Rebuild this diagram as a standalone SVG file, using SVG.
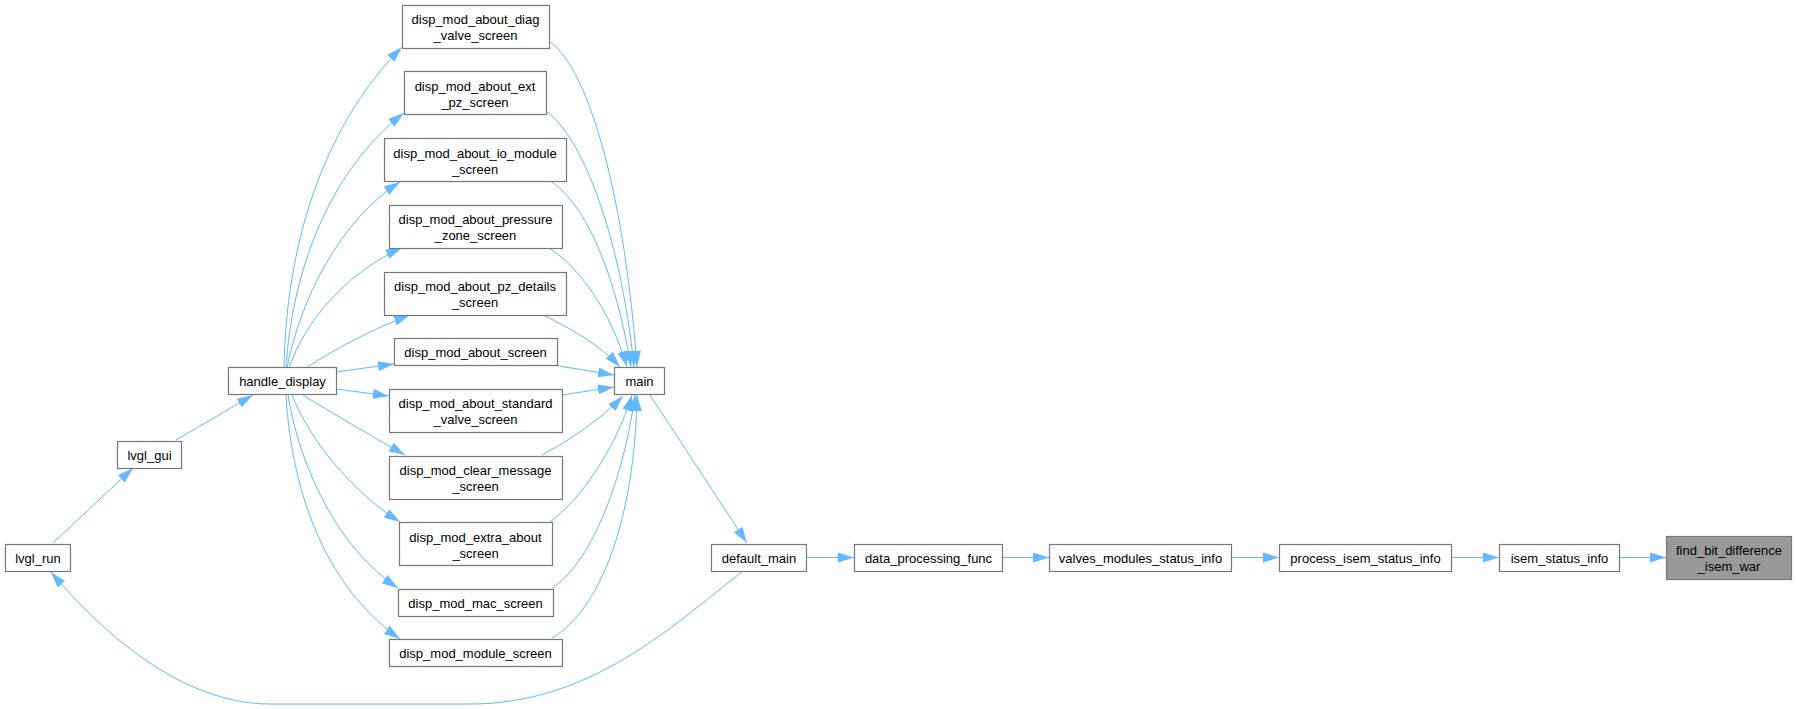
<svg xmlns="http://www.w3.org/2000/svg" width="1796" height="709" viewBox="0 0 1796 709">
<style>
.node rect{fill:#ffffff;stroke:#777777;stroke-width:1.2}
.node.hl rect{fill:#999999}
text{font-family:"Liberation Sans",Arial,sans-serif;font-size:13px;text-anchor:middle;fill:#000000}
.edges path{fill:none;stroke:#63b8ff;stroke-width:1}
</style>
<defs>
<marker id="ah" markerUnits="userSpaceOnUse" markerWidth="16" markerHeight="10" refX="16" refY="5" orient="auto" viewBox="0 0 16 10">
<path d="M0,0 L16,5 L0,10 z" fill="#63b8ff"/>
</marker>
</defs>
<rect width="1796" height="709" fill="#ffffff"/>
<g class="edges" marker-end="url(#ah)">
<path d="M1619,557.5 L1666,557.5" marker-end="url(#ah)"/>
<path d="M1451,557.5 L1499,557.5" marker-end="url(#ah)"/>
<path d="M1231,557.5 L1279,557.5" marker-end="url(#ah)"/>
<path d="M1002,557.5 L1049,557.5" marker-end="url(#ah)"/>
<path d="M806,557.5 L854,557.5" marker-end="url(#ah)"/>
<path d="M650,395 L747,543" marker-end="url(#ah)"/>
<path d="M176,440 L253,395" marker-end="url(#ah)"/>
<path d="M53,543 L133,468" marker-end="url(#ah)"/>
<path d="M743,571 C670,628 590,704 470,704 L270,704 C180,704 100,630 51,572" marker-end="url(#ah)"/>
<path d="M284,368 C286,250 320,130 402,47" marker-end="url(#ah)"/>
<path d="M286,368 C292,270 330,170 404,113" marker-end="url(#ah)"/>
<path d="M287,368 C300,300 340,220 400,182" marker-end="url(#ah)"/>
<path d="M289,368 C305,320 350,270 402,248" marker-end="url(#ah)"/>
<path d="M306,368 C330,352 370,330 410,315" marker-end="url(#ah)"/>
<path d="M336,372 L394,364" marker-end="url(#ah)"/>
<path d="M336,389 L389,396" marker-end="url(#ah)"/>
<path d="M303,395 C330,412 370,435 405,455" marker-end="url(#ah)"/>
<path d="M292,395 C310,440 350,490 400,522" marker-end="url(#ah)"/>
<path d="M288,395 C300,470 340,550 398,588" marker-end="url(#ah)"/>
<path d="M286,395 C292,500 330,590 400,639" marker-end="url(#ah)"/>
<path d="M550,42 C590,70 625,200 637,367" marker-end="url(#ah)"/>
<path d="M547,112 C580,135 620,230 634,367" marker-end="url(#ah)"/>
<path d="M552,182 C585,205 615,270 631,367" marker-end="url(#ah)"/>
<path d="M549,248 C580,268 610,310 627,367" marker-end="url(#ah)"/>
<path d="M543,315 C570,328 600,345 620,367" marker-end="url(#ah)"/>
<path d="M553,365 L614,375" marker-end="url(#ah)"/>
<path d="M562,395 L614,387" marker-end="url(#ah)"/>
<path d="M542,455 C570,440 600,420 623,396" marker-end="url(#ah)"/>
<path d="M550,522 C580,500 615,450 632,395" marker-end="url(#ah)"/>
<path d="M552,588 C595,560 625,470 635,395" marker-end="url(#ah)"/>
<path d="M552,638 C600,610 635,520 637,395" marker-end="url(#ah)"/>
</g>
<g id="node_diag" class="node"><rect x="402.5" y="5.5" width="147" height="43"/><text x="475.5" y="24">disp_mod_about_diag</text><text x="475.5" y="40">_valve_screen</text></g>
<g id="node_ext_pz" class="node"><rect x="404.5" y="71.5" width="142" height="43"/><text x="475" y="90.5">disp_mod_about_ext</text><text x="475" y="106.5">_pz_screen</text></g>
<g id="node_io_module" class="node"><rect x="384.5" y="138.5" width="182" height="43"/><text x="475" y="157.5">disp_mod_about_io_module</text><text x="475" y="173.5">_screen</text></g>
<g id="node_pressure" class="node"><rect x="389.5" y="205.5" width="173" height="43"/><text x="475.5" y="224">disp_mod_about_pressure</text><text x="475.5" y="240">_zone_screen</text></g>
<g id="node_pz_details" class="node"><rect x="384.5" y="272.5" width="182" height="43"/><text x="475" y="291">disp_mod_about_pz_details</text><text x="475" y="307">_screen</text></g>
<g id="node_about" class="node"><rect x="394.5" y="338.5" width="163" height="27"/><text x="475.5" y="357">disp_mod_about_screen</text></g>
<g id="node_standard" class="node"><rect x="389.5" y="389.5" width="173" height="43"/><text x="475.5" y="408">disp_mod_about_standard</text><text x="475.5" y="424">_valve_screen</text></g>
<g id="node_clear" class="node"><rect x="389.5" y="456.5" width="173" height="43"/><text x="475.5" y="475">disp_mod_clear_message</text><text x="475.5" y="491">_screen</text></g>
<g id="node_extra" class="node"><rect x="399.5" y="522.5" width="153" height="43"/><text x="475.5" y="541.5">disp_mod_extra_about</text><text x="475.5" y="557.5">_screen</text></g>
<g id="node_mac" class="node"><rect x="398.5" y="589.5" width="155" height="27"/><text x="475.5" y="608">disp_mod_mac_screen</text></g>
<g id="node_module" class="node"><rect x="389.5" y="639.5" width="173" height="27"/><text x="475.5" y="658">disp_mod_module_screen</text></g>
<g id="node_handle_display" class="node"><rect x="228.5" y="367.5" width="108" height="27"/><text x="282.5" y="386">handle_display</text></g>
<g id="node_main" class="node"><rect x="614.5" y="367.5" width="50" height="27"/><text x="639.5" y="386">main</text></g>
<g id="node_lvgl_gui" class="node"><rect x="117.5" y="441.5" width="64" height="27"/><text x="149.5" y="460">lvgl_gui</text></g>
<g id="node_lvgl_run" class="node"><rect x="5.5" y="544.5" width="65" height="27"/><text x="38" y="563">lvgl_run</text></g>
<g id="node_default_main" class="node"><rect x="711.5" y="544.5" width="95" height="27"/><text x="759" y="563">default_main</text></g>
<g id="node_data_processing" class="node"><rect x="854.5" y="544.5" width="148" height="27"/><text x="928.5" y="563">data_processing_func</text></g>
<g id="node_valves" class="node"><rect x="1049.5" y="544.5" width="182" height="27"/><text x="1140.5" y="563">valves_modules_status_info</text></g>
<g id="node_process_isem" class="node"><rect x="1279.5" y="544.5" width="172" height="27"/><text x="1365.5" y="563">process_isem_status_info</text></g>
<g id="node_isem_status" class="node"><rect x="1499.5" y="544.5" width="120" height="27"/><text x="1559.5" y="563">isem_status_info</text></g>
<g id="node_find_bit" class="node hl"><rect x="1666.5" y="536.5" width="125" height="43"/><text x="1729" y="555">find_bit_difference</text><text x="1729" y="571">_isem_war</text></g>
</svg>
